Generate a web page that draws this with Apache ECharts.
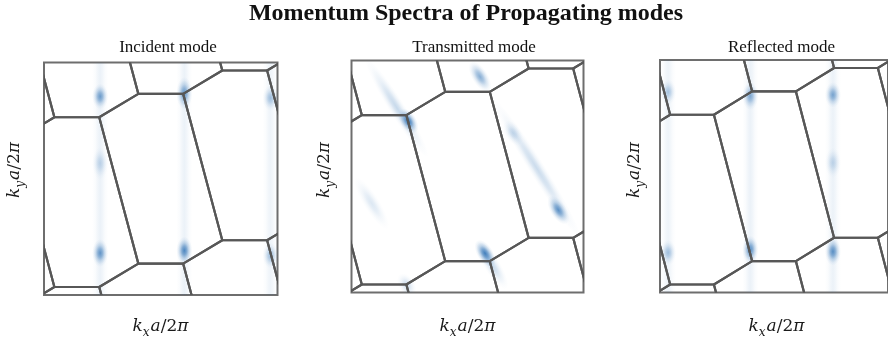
<!DOCTYPE html>
<html><head><meta charset="utf-8">
<script src="https://cdn.jsdelivr.net/npm/echarts@6/dist/echarts.min.js"></script>
<style>html,body{margin:0;padding:0;background:#fff}#c{width:888px;height:344px}</style>
</head><body><div id="c"></div>
<script>
// ---------------- data ----------------
const chartTitle = 'Momentum Spectra of Propagating modes';
const panelTitles = ['Incident mode', 'Transmitted mode', 'Reflected mode'];
const kRange = [-1, 1];                       // kx a/2π and ky a/2π range shown
// Brillouin-zone hexagon vertices (kx, ky) around Γ
const hexVx = [-0.192, 0.192, 0.527, 0.192, -0.192, -0.527];
const hexVy = [0.730, 0.730, -0.529, -0.730, -0.730, 0.529];
// reciprocal lattice vectors
const b1 = [0.719, 0.201];
const b2 = [0.0, 1.46];
// streak tilt of each panel (degrees from vertical)
const panelTilt = [0, 32, 0];
// faint continuous streaks: [kx, intensity]
const incidentLines = [[-0.519, 0.09], [0.202, 0.09], [0.940, 0.08]];
const reflectedLines = [[-0.929, 0.08], [-0.208, 0.09], [0.517, 0.09]];
const transmittedLines = [];
// spots: [kx, ky, half length (k units), intensity]
const incidentSpots = [
  [-0.519, 0.708, 0.11, 0.65],
  [-0.519, 0.133, 0.14, 0.26],
  [-0.519, -0.639, 0.12, 0.70],
  [0.202, 0.735, 0.14, 0.68],
  [0.202, -0.618, 0.12, 0.80],
  [0.940, 0.695, 0.11, 0.40],
  [0.940, -0.661, 0.11, 0.40]
];
const transmittedSpots = [
  [-0.609, 0.592, 0.50, 0.26],
  [-0.510, 0.478, 0.12, 0.90],
  [0.108, 0.860, 0.15, 0.55],
  [0.597, 0.071, 0.70, 0.24],
  [0.392, 0.375, 0.12, 0.24],
  [0.783, -0.289, 0.14, 0.75],
  [0.211, -0.763, 0.24, 0.26],
  [0.151, -0.662, 0.13, 0.85],
  [-0.826, -0.231, 0.26, 0.16],
  [-0.524, -0.935, 0.11, 0.24]
];
const reflectedSpots = [
  [-0.929, 0.725, 0.11, 0.36],
  [-0.929, -0.657, 0.11, 0.40],
  [-0.208, 0.690, 0.12, 0.56],
  [-0.208, -0.631, 0.12, 0.75],
  [0.517, 0.700, 0.11, 0.60],
  [0.517, 0.116, 0.13, 0.26],
  [0.517, -0.648, 0.12, 0.75]
];
const panelSpots = [incidentSpots, transmittedSpots, reflectedSpots];
const panelLines = [incidentLines, transmittedLines, reflectedLines];

// ---------------- layout / style ----------------
const grids = [
  {left: 44, top: 62.5, width: 233.5, height: 232.5},
  {left: 351.5, top: 60.5, width: 232, height: 232},
  {left: 660, top: 60, width: 233, height: 232.5}
];
const subTitlePos = [[168, 48], [474, 48], [781.5, 48]];
const yLabelPos = [[15, 170], [325, 170], [635, 170]];
const xLabelPos = [[160.5, 327], [467.5, 327], [776.5, 327]];
const BLUE = [38, 108, 178];
function rgba(a) { a = Math.max(0, Math.min(1, a)); return 'rgba(' + BLUE.join(',') + ',' + a.toFixed(3) + ')'; }
function radialStops(I) {
  return [{offset: 0, color: rgba(I)}, {offset: 0.3, color: rgba(I * 0.7)}, {offset: 0.55, color: rgba(I * 0.33)},
          {offset: 0.8, color: rgba(I * 0.09)}, {offset: 1, color: rgba(0)}];
}
function linearStops(I) {
  return [{offset: 0, color: rgba(0)}, {offset: 0.2, color: rgba(I * 0.25)}, {offset: 0.35, color: rgba(I * 0.7)},
          {offset: 0.5, color: rgba(I)}, {offset: 0.65, color: rgba(I * 0.7)}, {offset: 0.8, color: rgba(I * 0.25)},
          {offset: 1, color: rgba(0)}];
}
const SPOT_HALF_W = 8, LINE_HALF_W = 8;

// lattice cells (centres) built from the reciprocal vectors
const cells = [];
for (let i = -4; i <= 4; i++) for (let j = -4; j <= 4; j++) {
  const cx = i * b1[0] + j * b2[0], cy = i * b1[1] + j * b2[1];
  if (Math.abs(cx) < 2.2 && Math.abs(cy) < 2.4) cells.push([cx, cy]);
}

function hexRender(params, api) {
  const cx = api.value(0), cy = api.value(1);
  const pts = hexVx.map((vx, k) => api.coord([cx + vx, cy + hexVy[k]]));
  return {type: 'polygon', shape: {points: pts},
    style: {fill: 'none', stroke: '#575757', lineWidth: 2.2, lineJoin: 'round'}, silent: true};
}
function spotRender(tilt) {
  return function (params, api) {
    const c = api.coord([api.value(0), api.value(1)]);
    const len = api.size([0, api.value(2)])[1];
    const I = api.value(3);
    return {type: 'circle', x: c[0], y: c[1], rotation: tilt * Math.PI / 180,
      scaleX: SPOT_HALF_W / 10, scaleY: len / 10, shape: {cx: 0, cy: 0, r: 10},
      style: {fill: {type: 'radial', x: 0.5, y: 0.5, r: 0.5, colorStops: radialStops(I)}}, silent: true};
  };
}
function lineRender(params, api) {
  const c = api.coord([api.value(0), 0]);
  const sys = params.coordSys;
  const I = api.value(1);
  return {type: 'rect', shape: {x: c[0] - LINE_HALF_W, y: sys.y, width: 2 * LINE_HALF_W, height: sys.height},
    style: {fill: {type: 'linear', x: 0, y: 0, x2: 1, y2: 0, colorStops: linearStops(I)}}, silent: true};
}

const mathFont = 'DejaVu Serif';
function mathLabel(sub) {
  return {
    text: '{i|k}{s|' + sub + '}{i|a}{n|/2}{i|π}',
    rich: {
      i: {fontFamily: mathFont, fontStyle: 'italic', fontSize: 17, fill: '#1a1a1a'},
      s: {fontFamily: mathFont, fontStyle: 'italic', fontSize: 12, fill: '#1a1a1a', padding: [12, 1, 0, 0]},
      n: {fontFamily: mathFont, fontSize: 17, fill: '#1a1a1a'}
    },
    align: 'center', verticalAlign: 'middle'
  };
}

const option = {
  backgroundColor: '#ffffff',
  animation: false,
  grid: grids.map(g => Object.assign({show: true, borderColor: '#6e6e6e', borderWidth: 2, backgroundColor: 'transparent'}, g)),
  xAxis: grids.map((g, k) => ({gridIndex: k, type: 'value', min: kRange[0], max: kRange[1],
    axisLine: {show: false}, axisTick: {show: false}, axisLabel: {show: false}, splitLine: {show: false}})),
  yAxis: grids.map((g, k) => ({gridIndex: k, type: 'value', min: kRange[0], max: kRange[1],
    axisLine: {show: false}, axisTick: {show: false}, axisLabel: {show: false}, splitLine: {show: false}})),
  series: [],
  graphic: []
};
for (let k = 0; k < 3; k++) {
  if (panelLines[k].length) option.series.push({type: 'custom', xAxisIndex: k, yAxisIndex: k, clip: true, z: 1,
    renderItem: lineRender, data: panelLines[k]});
  option.series.push({type: 'custom', xAxisIndex: k, yAxisIndex: k, clip: true, z: 2,
    renderItem: spotRender(panelTilt[k]), data: panelSpots[k]});
  option.series.push({type: 'custom', xAxisIndex: k, yAxisIndex: k, clip: true, z: 3,
    renderItem: hexRender, data: cells});
  option.graphic.push({type: 'text', x: subTitlePos[k][0], y: subTitlePos[k][1],
    style: {text: panelTitles[k], fontFamily: 'Liberation Serif', fontSize: 17, fill: '#111', align: 'center', verticalAlign: 'middle'}});
  option.graphic.push({type: 'text', x: xLabelPos[k][0], y: xLabelPos[k][1], style: mathLabel('x')});
  option.graphic.push({type: 'text', x: yLabelPos[k][0], y: yLabelPos[k][1], rotation: Math.PI / 2, style: mathLabel('y')});
}
option.graphic.push({type: 'text', x: 466, y: 14,
  style: {text: chartTitle, fontFamily: 'Liberation Serif', fontWeight: 'bold', fontSize: 24, fill: '#111', align: 'center', verticalAlign: 'middle'}});

const chart = echarts.init(document.getElementById('c'), null, {renderer: 'canvas'});
chart.setOption(option);
</script></body></html>
